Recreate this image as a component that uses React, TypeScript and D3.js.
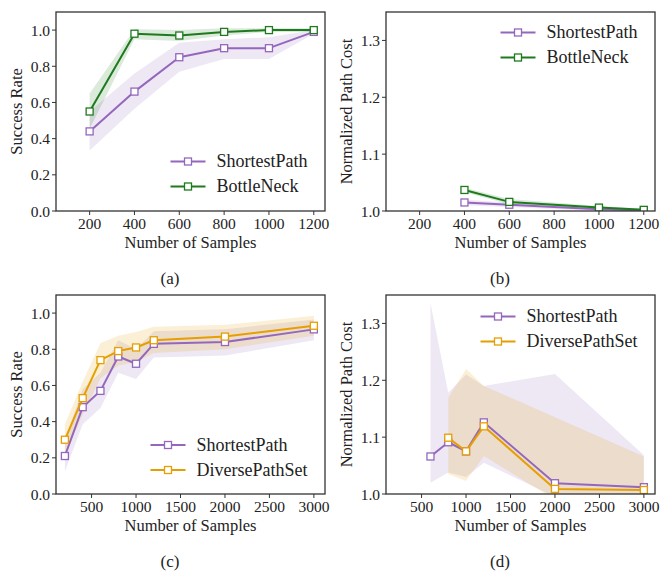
import * as d3 from "d3";

const PURPLE = "#9467bd";
const GREEN = "#1f7a1f";
const ORANGE = "#e69f00";
const FONT = "'Liberation Serif', 'Times New Roman', serif";

// (a) success rate, 200..1200 samples
const samplesA = [200, 400, 600, 800, 1000, 1200];
const shortestA = [0.44, 0.66, 0.85, 0.9, 0.9, 0.99];
const shortestALo = [0.335, 0.565, 0.77, 0.84, 0.84, 0.98];
const shortestAHi = [0.55, 0.76, 0.93, 0.95, 0.96, 1.0];
const bottleA = [0.55, 0.98, 0.97, 0.99, 1.0, 1.0];
const bottleALo = [0.455, 0.95, 0.94, 0.97, 0.99, 0.99];
const bottleAHi = [0.65, 1.005, 1.0, 1.01, 1.01, 1.01];

// (b) normalized path cost
const samplesB = [400, 600, 1000, 1200];
const shortestB = [1.015, 1.011, 1.003, 1.001];
const shortestBLo = [1.01, 1.007, 1.0, 1.0];
const shortestBHi = [1.02, 1.015, 1.006, 1.003];
const bottleB = [1.037, 1.016, 1.006, 1.002];
const bottleBLo = [1.033, 1.012, 1.004, 1.0];
const bottleBHi = [1.041, 1.021, 1.009, 1.004];

// (c) success rate, 200..3000 samples
const samplesC = [200, 400, 600, 800, 1000, 1200, 2000, 3000];
const shortestC = [0.21, 0.48, 0.57, 0.76, 0.72, 0.83, 0.84, 0.91];
const shortestCLo = [0.125, 0.385, 0.475, 0.67, 0.635, 0.755, 0.765, 0.85];
const shortestCHi = [0.3, 0.58, 0.67, 0.85, 0.8, 0.9, 0.91, 0.965];
const diverseC = [0.3, 0.53, 0.74, 0.79, 0.81, 0.85, 0.87, 0.93];
const diverseCLo = [0.21, 0.44, 0.64, 0.71, 0.73, 0.78, 0.8, 0.875];
const diverseCHi = [0.385, 0.62, 0.835, 0.875, 0.895, 0.925, 0.935, 0.985];

// (d) normalized path cost
const samplesDShortest = [600, 800, 1000, 1200, 2000, 3000];
const shortestD = [1.066, 1.091, 1.075, 1.126, 1.019, 1.012];
const shortestDLo = [1.02, 1.038, 1.03, 1.055, 0.995, 0.99];
const shortestDHi = [1.336, 1.178, 1.21, 1.19, 1.211, 1.068];
const samplesDDiverse = [800, 1000, 1200, 2000, 3000];
const diverseD = [1.099, 1.075, 1.119, 1.009, 1.007];
const diverseDLo = [1.035, 1.023, 1.067, 0.99, 0.99];
const diverseDHi = [1.169, 1.22, 1.19, 1.135, 1.066];

const ticksSmall = [200, 400, 600, 800, 1000, 1200];
const ticksLarge = [500, 1000, 1500, 2000, 2500, 3000];
const ticksRate = [0, 0.2, 0.4, 0.6, 0.8, 1.0];
const ticksCost = [1.0, 1.1, 1.2, 1.3];

type Series = {
  name: string;
  color: string;
  x: number[];
  y: number[];
  lo: number[];
  hi: number[];
};

type PanelProps = {
  id: string;
  left: number;
  top: number;
  xDomain: [number, number];
  yDomain: [number, number];
  xTicks: number[];
  yTicks: number[];
  yLabel: string;
  caption: string;
  series: Series[];
  legendX: number;
  legendY: number;
};

const PW = 269;
const PH = 199;

function Panel(p: PanelProps) {
  const x = d3.scaleLinear().domain(p.xDomain).range([p.left, p.left + PW]);
  const y = d3.scaleLinear().domain(p.yDomain).range([p.top + PH, p.top]);
  const bottom = p.top + PH;

  return (
    <g>
      <defs>
        <clipPath id={`clip-${p.id}`}>
          <rect x={p.left} y={p.top} width={PW} height={PH} />
        </clipPath>
      </defs>
      <g clipPath={`url(#clip-${p.id})`}>
        {p.series.map((s) => {
          const pts = s.x.map((v, i) => ({ x: v, lo: s.lo[i], hi: s.hi[i] }));
          const area = d3
            .area<{ x: number; lo: number; hi: number }>()
            .x((d) => x(d.x))
            .y0((d) => y(d.lo))
            .y1((d) => y(d.hi));
          return <path key={`band-${s.name}`} d={area(pts) || ""} fill={s.color} fillOpacity={0.16} stroke="none" />;
        })}
        {p.series.map((s) => {
          const pts = s.x.map((v, i) => [x(v), y(s.y[i])] as [number, number]);
          const path = d3.line()(pts) || "";
          return (
            <g key={`line-${s.name}`}>
              <path d={path} fill="none" stroke={s.color} strokeWidth={2} strokeLinejoin="round" />
              {pts.map(([px, py], i) => (
                <rect key={i} x={px - 3.5} y={py - 3.5} width={7} height={7} fill="#fff" stroke={s.color} strokeWidth={1.3} />
              ))}
            </g>
          );
        })}
      </g>

      {/* frame */}
      <rect x={p.left} y={p.top} width={PW} height={PH} fill="none" stroke="#333" strokeWidth={1.3} />

      {p.xTicks.map((t) => (
        <g key={`xt-${t}`}>
          <line x1={x(t)} x2={x(t)} y1={bottom} y2={bottom + 4} stroke="#333" strokeWidth={1} />
          <text x={x(t)} y={bottom + 18} textAnchor="middle" fontSize={15.5} fontFamily={FONT} fill="#222">
            {t}
          </text>
        </g>
      ))}
      {p.yTicks.map((t) => (
        <g key={`yt-${t}`}>
          <line x1={p.left - 4} x2={p.left} y1={y(t)} y2={y(t)} stroke="#333" strokeWidth={1} />
          <text x={p.left - 6} y={y(t) + 5.5} textAnchor="end" fontSize={15.5} fontFamily={FONT} fill="#222">
            {t.toFixed(1)}
          </text>
        </g>
      ))}

      <text x={p.left + PW / 2} y={bottom + 37} textAnchor="middle" fontSize={16.5} fontFamily={FONT} fill="#222">
        Number of Samples
      </text>
      <text
        transform={`translate(${p.left - 34} ${p.top + PH / 2}) rotate(-90)`}
        textAnchor="middle"
        fontSize={16.5}
        fontFamily={FONT}
        fill="#222"
      >
        {p.yLabel}
      </text>
      <text x={p.left + 114} y={bottom + 73} textAnchor="middle" fontSize={17} fontFamily={FONT} fill="#222">
        {p.caption}
      </text>

      {p.series.map((s, i) => {
        const ly = p.legendY + i * 25;
        return (
          <g key={`lg-${s.name}`}>
            <line x1={p.legendX} x2={p.legendX + 35} y1={ly} y2={ly} stroke={s.color} strokeWidth={2} />
            <rect x={p.legendX + 14} y={ly - 3.5} width={7} height={7} fill="#fff" stroke={s.color} strokeWidth={1.3} />
            <text x={p.legendX + 46} y={ly + 5.5} fontSize={18} fontFamily={FONT} fill="#222">
              {s.name}
            </text>
          </g>
        );
      })}
    </g>
  );
}

export default function App() {
  return (
    <svg
      width={660}
      height={571}
      viewBox="0 0 660 571"
      style={{ position: "absolute", left: 0, top: 0, background: "#fff" }}
    >
      <rect width={660} height={571} fill="#fff" />
      <Panel
        id="a"
        left={56}
        top={12}
        xDomain={[50, 1250]}
        yDomain={[0, 1.1]}
        xTicks={ticksSmall}
        yTicks={ticksRate}
        yLabel="Success Rate"
        caption="(a)"
        legendX={170.5}
        legendY={161.5}
        series={[
          { name: "ShortestPath", color: PURPLE, x: samplesA, y: shortestA, lo: shortestALo, hi: shortestAHi },
          { name: "BottleNeck", color: GREEN, x: samplesA, y: bottleA, lo: bottleALo, hi: bottleAHi },
        ]}
      />
      <Panel
        id="b"
        left={386}
        top={12}
        xDomain={[50, 1250]}
        yDomain={[1.0, 1.35]}
        xTicks={ticksSmall}
        yTicks={ticksCost}
        yLabel="Normalized Path Cost"
        caption="(b)"
        legendX={500.5}
        legendY={32.5}
        series={[
          { name: "ShortestPath", color: PURPLE, x: samplesB, y: shortestB, lo: shortestBLo, hi: shortestBHi },
          { name: "BottleNeck", color: GREEN, x: samplesB, y: bottleB, lo: bottleBLo, hi: bottleBHi },
        ]}
      />
      <Panel
        id="c"
        left={56}
        top={295}
        xDomain={[100, 3125]}
        yDomain={[0, 1.1]}
        xTicks={ticksLarge}
        yTicks={ticksRate}
        yLabel="Success Rate"
        caption="(c)"
        legendX={150.5}
        legendY={445}
        series={[
          { name: "ShortestPath", color: PURPLE, x: samplesC, y: shortestC, lo: shortestCLo, hi: shortestCHi },
          { name: "DiversePathSet", color: ORANGE, x: samplesC, y: diverseC, lo: diverseCLo, hi: diverseCHi },
        ]}
      />
      <Panel
        id="d"
        left={386}
        top={295}
        xDomain={[100, 3125]}
        yDomain={[1.0, 1.35]}
        xTicks={ticksLarge}
        yTicks={ticksCost}
        yLabel="Normalized Path Cost"
        caption="(d)"
        legendX={480.5}
        legendY={316.5}
        series={[
          { name: "ShortestPath", color: PURPLE, x: samplesDShortest, y: shortestD, lo: shortestDLo, hi: shortestDHi },
          { name: "DiversePathSet", color: ORANGE, x: samplesDDiverse, y: diverseD, lo: diverseDLo, hi: diverseDHi },
        ]}
      />
    </svg>
  );
}
